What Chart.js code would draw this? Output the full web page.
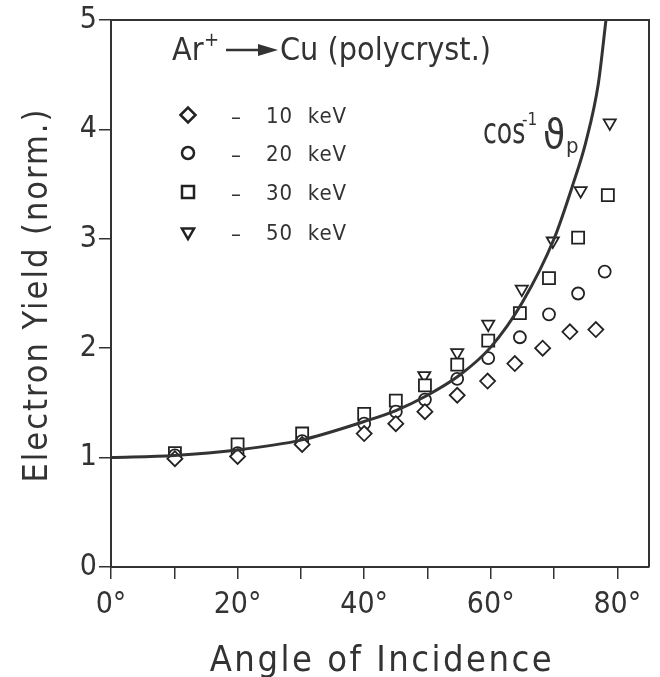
<!DOCTYPE html>
<html>
<head>
<meta charset="utf-8">
<script src="https://cdn.jsdelivr.net/npm/chart.js@4.4.1/dist/chart.umd.min.js"></script>
<style>
  html, body { margin: 0; padding: 0; background: #fff; }
  #wrap { width: 660px; height: 677px; }
</style>
</head>
<body>
<div id="wrap"><canvas id="yieldChart"></canvas></div>
<script>
/* -------------------- DATA -------------------- */
// cos^-1 curve
const curveAngles = [0, 10, 20, 30, 40, 45, 50, 55, 60, 65, 70, 73, 75, 77, 78.2];
const curveYield  = [1.00, 1.02, 1.07, 1.16, 1.33, 1.43, 1.57, 1.75, 2.01, 2.42, 3.00, 3.50, 3.88, 4.42, 5.00];

const kev10Angles = [10.1, 20, 30.2, 40, 45, 49.6, 54.7, 59.5, 63.8, 68.2, 72.5, 76.6];
const kev10Yield  = [0.99, 1.01, 1.12, 1.22, 1.31, 1.42, 1.57, 1.70, 1.86, 2.00, 2.15, 2.17];

const kev20Angles = [10.1, 20, 30.2, 40, 45, 49.6, 54.7, 59.6, 64.6, 69.2, 73.8, 78.0];
const kev20Yield  = [1.02, 1.04, 1.15, 1.31, 1.42, 1.53, 1.72, 1.91, 2.10, 2.31, 2.50, 2.70];

const kev30Angles = [10.1, 20, 30.2, 40, 45, 49.6, 54.7, 59.6, 64.6, 69.2, 73.8, 78.5];
const kev30Yield  = [1.04, 1.12, 1.22, 1.40, 1.52, 1.66, 1.85, 2.07, 2.32, 2.64, 3.01, 3.40];

const kev50Angles = [49.5, 54.7, 59.6, 64.9, 69.8, 74.2, 78.8];
const kev50Yield  = [1.75, 1.96, 2.22, 2.54, 2.98, 3.44, 4.06];

const legendLabels = ["10 keV", "20 keV", "30 keV", "50 keV"];
const xTitle = "Angle of Incidence";
const yTitle = "Electron Yield (norm.)";

/* -------------------- HELPERS -------------------- */
const FONT = "'DejaVu Sans Condensed', 'Liberation Sans Narrow', 'DejaVu Sans', sans-serif";
const INK = "#333";
const toPoints = (xs, ys) => xs.map((x, i) => ({ x: x, y: ys[i] }));

const markers = [
  { pointStyle: "rectRot", radius: 7.5, rotation: 0 },
  { pointStyle: "circle", radius: 6, rotation: 0 },
  { pointStyle: "rect", radius: 8.5, rotation: 0 },
  { pointStyle: "triangle", radius: 7, rotation: 180 }
];

function markerSet(label, xs, ys, m) {
  return {
    type: "scatter",
    label: label,
    data: toPoints(xs, ys),
    pointStyle: m.pointStyle,
    pointRadius: m.radius,
    pointRotation: m.rotation,
    pointBorderWidth: 1.8,
    borderColor: "#222",
    backgroundColor: "#fff",
    showLine: false
  };
}

/* -------------------- FRAME + ANNOTATIONS -------------------- */
const annotations = {
  id: "annotations",
  afterDraw(chart) {
    const ctx = chart.ctx;
    const a = chart.chartArea;
    ctx.save();

    // top and right frame
    ctx.strokeStyle = INK;
    ctx.lineWidth = 2;
    ctx.beginPath();
    ctx.moveTo(a.left, a.top);
    ctx.lineTo(a.right, a.top);
    ctx.lineTo(a.right, a.bottom);
    ctx.stroke();

    ctx.fillStyle = INK;
    ctx.textBaseline = "alphabetic";

    // axis titles (spaced lettering)
    ctx.letterSpacing = "2.5px";
    ctx.font = "36px " + FONT;
    ctx.textAlign = "center";
    ctx.fillText(xTitle, (a.left + a.right) / 2 + 2, 671);
    ctx.save();
    ctx.translate(47, 295);
    ctx.rotate(-Math.PI / 2);
    ctx.letterSpacing = "2px";
    ctx.font = "34px " + FONT;
    ctx.fillText(yTitle, 0, 0);
    ctx.restore();
    ctx.textAlign = "left";
    ctx.letterSpacing = "0px";

    // title: Ar+ -> Cu (polycryst.)
    ctx.font = "32px " + FONT;
    ctx.fillText("Ar", 172, 60);
    ctx.font = "20px " + FONT;
    ctx.fillText("+", 204, 46);
    ctx.lineWidth = 2.5;
    ctx.beginPath();
    ctx.moveTo(226, 50);
    ctx.lineTo(262, 50);
    ctx.stroke();
    ctx.beginPath();
    ctx.moveTo(278, 50);
    ctx.lineTo(258, 44);
    ctx.lineTo(258, 56);
    ctx.closePath();
    ctx.fill();
    ctx.font = "32px " + FONT;
    ctx.fillText("Cu (polycryst.)", 280, 60);

    // legend rows
    const rowY = [115, 153, 192, 232];
    legendLabels.forEach((lab, i) => {
      ctx.strokeStyle = "#222";
      ctx.fillStyle = "#fff";
      Chart.helpers.drawPoint(ctx, {
        pointStyle: markers[i].pointStyle,
        radius: markers[i].radius,
        rotation: markers[i].rotation,
        borderWidth: 1.8
      }, 188, rowY[i]);
      ctx.fillStyle = INK;
      ctx.font = "22px " + FONT;
      ctx.fillText("\u2013", 231, rowY[i] + 9);
      ctx.letterSpacing = "1px";
      ctx.fillText(lab.replace(" ", "  "), 266, rowY[i] + 8);
      ctx.letterSpacing = "0px";
    });

    // cos^-1 theta_p label (narrow lettering)
    ctx.save();
    ctx.translate(483, 143);
    ctx.scale(0.8, 1);
    ctx.font = "35px " + FONT;
    ctx.fillText("cos", 0, 0);
    ctx.restore();
    ctx.font = "17px " + FONT;
    ctx.fillText("-1", 522, 125);
    ctx.font = "40px " + FONT;
    ctx.fillText("\u03D1", 543, 148);
    ctx.font = "22px " + FONT;
    ctx.fillText("p", 566, 153);

    ctx.restore();
  }
};

/* -------------------- CHART -------------------- */
document.addEventListener("DOMContentLoaded", () => {
  const ctx = document.getElementById("yieldChart");

  new Chart(ctx, {
    data: {
      datasets: [
        {
          type: "line",
          label: "cos-1",
          data: toPoints(curveAngles, curveYield),
          borderColor: INK,
          borderWidth: 3,
          pointRadius: 0,
          cubicInterpolationMode: "monotone",
          fill: false
        },
        markerSet("10 keV", kev10Angles, kev10Yield, markers[0]),
        markerSet("20 keV", kev20Angles, kev20Yield, markers[1]),
        markerSet("30 keV", kev30Angles, kev30Yield, markers[2]),
        markerSet("50 keV", kev50Angles, kev50Yield, markers[3])
      ]
    },
    options: {
      responsive: true,
      maintainAspectRatio: false,
      animation: false,
      layout: { padding: { top: 17, right: 11, left: 0, bottom: 0 } },
      plugins: {
        legend: { display: false },
        tooltip: { enabled: false }
      },
      scales: {
        x: {
          type: "linear",
          min: 0,
          max: 85,
          afterFit: s => { s.height = 110; },
          border: { color: INK, width: 2 },
          grid: { drawOnChartArea: false, color: INK, lineWidth: 1.5, tickLength: 12 },
          ticks: {
            stepSize: 10,
            includeBounds: false,
            autoSkip: false,
            maxRotation: 0,
            color: INK,
            padding: 8,
            font: { family: FONT, size: 30 },
            callback: v => (v % 20 === 0 ? v + "\u00B0" : "")
          }
        },
        y: {
          min: 0,
          max: 5,
          afterFit: s => { s.width = 111; },
          border: { color: INK, width: 2 },
          grid: { drawOnChartArea: false, color: INK, lineWidth: 1.5, tickLength: 12 },
          ticks: {
            stepSize: 1,
            color: INK,
            padding: 2,
            font: { family: FONT, size: 30 }
          }
        }
      }
    },
    plugins: [annotations]
  });
});
</script>
</body>
</html>
